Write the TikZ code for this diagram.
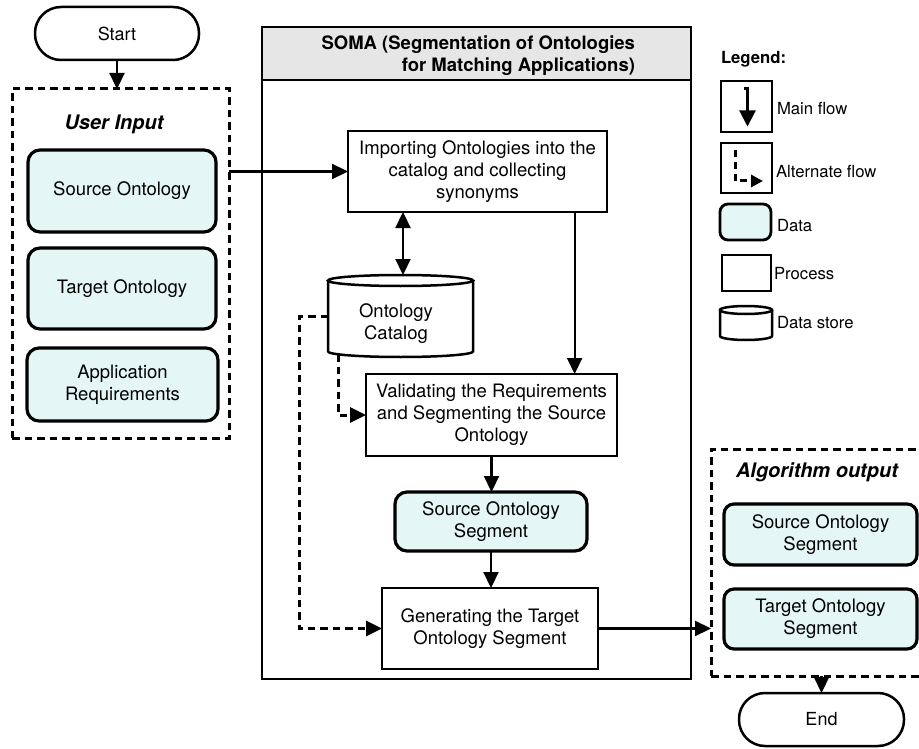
\documentclass[tikz,border=0pt]{standalone}
\usepackage{fontspec}
\setmainfont{TeX Gyre Heros}
\usetikzlibrary{arrows.meta,calc}
\definecolor{datafill}{RGB}{228,246,246}
\definecolor{headfill}{RGB}{230,230,230}

% cylinder outline: centre x, top-ellipse centre y, bottom-arc centre y, x radius, y radius
\newcommand\cylshape[5]{%
  \fill[white] ({#1-#4},#2) -- ({#1-#4},#3) arc[start angle=180,end angle=360,x radius=#4pt,y radius=#5pt] -- ({#1+#4},#2) -- cycle;
  \draw[cylline] ({#1-#4},#2) -- ({#1-#4},#3) arc[start angle=180,end angle=360,x radius=#4pt,y radius=#5pt] -- ({#1+#4},#2);
  \draw[cylline] (#1,#2) ellipse[x radius=#4pt,y radius=#5pt];
}

\begin{document}
\begin{tikzpicture}[x=1pt,y=-1pt,
  every node/.style={inner sep=0pt, outer sep=0pt, font=\fontsize{18.5}{21.8}\selectfont},
  procbox/.style={draw, line width=2.5pt, fill=white, align=center},
  databox/.style={draw, line width=3.2pt, fill=datafill, rounded corners=12pt, align=center},
  groupbox/.style={draw, line width=3pt, dash pattern=on 7.5pt off 5pt},
  terminal/.style={draw, line width=2.5pt, rounded corners=26pt, fill=white, font=\fontsize{18}{21}\selectfont},
  cylline/.style={line width=2.5pt},
  tip/.style={-{Triangle[length=16pt,width=15pt]}},
  flow/.style={line width=2.2pt, tip},
  altflow/.style={line width=3pt, dash pattern=on 7.5pt off 5pt, tip},
  grouptitle/.style={font=\bfseries\itshape\fontsize{20}{24}\selectfont},
  legtext/.style={anchor=west, font=\fontsize{16.7}{20}\selectfont},
]
\clip (0,0) rectangle (919,749);
\fill[white] (0,0) rectangle (919,749);

% ---------- input side ----------
\node[terminal, minimum width=164pt, minimum height=53pt] (start) at (117,33.5) {Start};
\node[groupbox, minimum width=217pt, minimum height=349pt] (ui) at (120.5,263.5) {};
\node[grouptitle] (uilabel) at (114,124) {User Input};
\node[databox, minimum width=188pt, minimum height=82pt] (srcont) at (122,191) {Source Ontology};
\node[databox, minimum width=188pt, minimum height=81pt] (tgtont) at (122,288.5) {Target Ontology};
\node[databox, minimum width=191pt, minimum height=73pt] (appreq) at (122.5,384.5) {Application\\Requirements};

% ---------- SOMA frame ----------
\node[draw, line width=2.5pt, minimum width=429pt, minimum height=652pt] (soma) at (476.5,353) {};
\node[draw, line width=2.5pt, fill=headfill, minimum width=429pt, minimum height=53pt] (somahead) at (476.5,53.5) {};
\node[anchor=east, align=right, font=\bfseries\fontsize{18.5}{22}\selectfont] (somatitle) at (635,56)
  {SOMA (Segmentation of Ontologies\\for Matching Applications)};

\node[procbox, minimum width=259pt, minimum height=81pt] (imp) at (477.5,171.5)
  {Importing Ontologies into the\\catalog and collecting\\synonyms};

\cylshape{400.5}{280.5}{351.5}{72.5}{5.5}
\node[minimum width=145pt, minimum height=82pt] (catalog) at (400.5,316) {};
\node[align=center] (catlabel) at (396,324) {Ontology\\Catalog};

\node[procbox, minimum width=251pt, minimum height=82pt] (val) at (491.5,415)
  {Validating the Requirements\\and Segmenting the Source\\Ontology};
\node[databox, minimum width=192pt, minimum height=59pt] (sos) at (491,521.5)
  {Source Ontology\\Segment};
\node[procbox, minimum width=216pt, minimum height=81pt] (gen) at (490,628.5)
  {Generating the Target\\Ontology Segment};

% ---------- output side ----------
\node[groupbox, minimum width=220pt, minimum height=227pt] (aout) at (821,562.5) {};
\node[grouptitle] (aoutlabel) at (817,472.5) {Algorithm output};
\node[databox, rounded corners=10pt, minimum width=193pt, minimum height=61pt] (sosout) at (820.5,534.5)
  {Source Ontology\\Segment};
\node[databox, rounded corners=10pt, minimum width=193pt, minimum height=60pt] (tosout) at (820.5,619)
  {Target Ontology\\Segment};
\node[terminal, minimum width=165pt, minimum height=53pt] (endn) at (821.5,719.5) {End};

% ---------- connectors ----------
\draw[flow] (start.south) -- (start.south |- ui.north);
\draw[flow] (ui.east |- imp.west) -- (imp.west);
\coordinate (dblx) at ($(catalog.north)+(2.5,0)$);
\draw[line width=2.2pt, {Triangle[length=16pt,width=15pt]}-{Triangle[length=16pt,width=15pt]}]
  (dblx |- imp.south) -- (dblx);
\coordinate (impdrop) at ($(imp.south west)!0.875!(imp.south east)$);
\draw[flow] (impdrop) -- (impdrop |- val.north);
\coordinate (catdrop) at ($(catalog.south west)+(10,-3)$);
\draw[altflow] (catdrop) -- (catdrop |- val.west) -- (val.west);
\draw[altflow] (catalog.west) -- ++(-29,0) |- (gen.west);
\draw[flow] (val.south) -- (val.south |- sos.north);
\draw[flow] (sos.south) -- (sos.south |- gen.north);
\draw[flow] (gen.east) -- (gen.east -| aout.west);
\draw[flow] (aout.south -| endn.north) -- (endn.north);

% ---------- legend ----------
\node[anchor=west, font=\bfseries\fontsize{16.7}{20}\selectfont] (legtitle) at (721,59) {Legend:};
\node[draw, line width=2.5pt, minimum width=51pt, minimum height=51pt] (legmain) at (746.5,106.5) {};
\node[legtext] (legmaintxt) at (777,109) {Main flow};
\draw[line width=2.2pt, -{Triangle[length=16pt,width=16pt]}] ($(legmain.north)+(-2.5,7.5)$) -- ++(3.5,0) -- ++(0,38);
\node[draw, line width=2.5pt, minimum width=51pt, minimum height=50pt] (legalt) at (746.5,168) {};
\node[legtext] (legalttxt) at (776,172) {Alternate flow};
\draw[line width=3pt, dash pattern=on 7pt off 5pt, -{Triangle[length=12pt,width=12pt]}]
  ($(legalt.north west)+(14,7)$) -- ++(0,31) -- ++(28,0);
\node[draw, line width=2.8pt, fill=datafill, rounded corners=8pt, minimum width=51pt, minimum height=36pt] (legdata) at (745.5,222) {};
\node[legtext] (legdatatxt) at (777,226) {Data};
\node[draw, line width=2.5pt, minimum width=49pt, minimum height=36pt] (legproc) at (746.5,273) {};
\node[legtext] (legproctxt) at (774,274) {Process};
\cylshape{746}{310}{336}{26}{4}
\node[minimum width=52pt, minimum height=34pt] (legstore) at (746,323) {};
\node[legtext] (legstoretxt) at (777,323) {Data store};
\end{tikzpicture}
\end{document}
